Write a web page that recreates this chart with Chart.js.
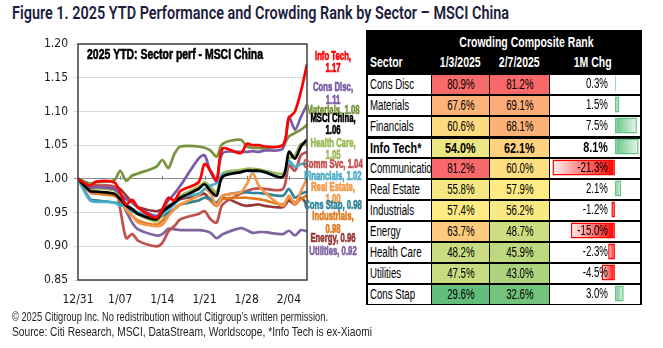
<!DOCTYPE html>
<html>
<head>
<meta charset="utf-8">
<script src="https://cdn.jsdelivr.net/npm/chart.js@4.4.1/dist/chart.umd.min.js"></script>
<style>
body { margin:0; width:663px; height:348px; overflow:hidden; background:#fff; position:relative; font-family:"Liberation Sans",Arial,sans-serif; }
.fit { position:absolute; white-space:nowrap; transform-origin:0 0; }
#title { left:12px; top:2px; font:600 18px Roboto,"Liberation Sans",sans-serif; color:#1c1c3c; }
.foot { left:12px; font:13px "Liberation Sans Narrow","Arial Narrow",sans-serif; color:#222; }
#lineBox { position:absolute; left:0; top:30px; width:366px; height:280px; }
#tbl { position:absolute; left:366px; top:30px; width:276px; height:275px; background:#000; }
#barBox { position:absolute; left:551px; top:73px; width:90px; height:231px; }
.c { position:absolute; box-sizing:border-box; font-size:14px; line-height:19px; white-space:nowrap; overflow:hidden; color:#000; }
.h { position:absolute; box-sizing:border-box; color:#fff; font-weight:bold; font-size:14px; white-space:nowrap; }
.c span, .h span { display:inline-block; }
</style>
</head>
<body>
<div id="title" class="fit">Figure 1. 2025 YTD Performance and Crowding Rank by Sector – MSCI China</div>
<div id="lineBox"><canvas id="lineChart"></canvas></div>
<div id="tbl"></div>
<div id="barBox"><canvas id="barChart"></canvas></div>
<div id="foot1" class="fit foot" style="top:309px">© 2025 Citigroup Inc. No redistribution without Citigroup’s written permission.</div>
<div id="foot2" class="fit foot" style="top:324px">Source: Citi Research, MSCI, DataStream, Worldscope, *Info Tech is ex-Xiaomi</div>
<script>
// ---- line chart data (days after 12/31/2024) ----
const days = [0,2,3,6,7,8,9,10,13,14,15,16,17,20,21,22,23,24,27,28,29,30,31,34,35,36,37,38];
const xTickLabels = ['12/31','1/07','1/14','1/21','1/28','2/04'];
const yTickLabels = ['0.85','0.90','0.95','1.00','1.05','1.10','1.15','1.20'];

const infoTech   = [1.000,0.990,0.996,0.995,0.980,0.962,0.969,0.957,0.942,0.955,0.972,0.968,0.982,0.995,1.022,1.012,0.998,1.045,1.038,1.052,1.050,1.050,1.048,1.050,1.090,1.100,1.130,1.170];
const consDisc   = [1.000,0.987,0.988,0.985,0.978,0.970,0.965,0.957,0.945,0.955,0.968,0.978,0.990,1.030,1.035,1.010,0.997,1.038,1.040,1.040,1.041,1.040,1.042,1.045,1.092,1.073,1.092,1.110];
const materials  = [1.000,0.993,0.995,0.998,1.012,0.997,1.005,1.008,1.018,1.028,1.016,1.037,1.048,1.048,1.046,1.042,1.033,1.052,1.058,1.048,1.046,1.046,1.045,1.050,1.063,1.068,1.073,1.080];
const msciChina  = [1.000,0.982,0.981,0.978,0.970,0.960,0.955,0.948,0.940,0.951,0.958,0.965,0.972,0.985,0.992,0.982,0.975,1.003,1.010,1.012,1.012,1.012,1.010,1.003,1.040,1.030,1.048,1.058];
const healthCare = [1.000,0.985,0.986,0.983,0.975,0.962,0.955,0.947,0.937,0.948,0.958,0.966,0.975,0.988,0.995,0.988,0.980,1.008,1.013,1.015,1.015,1.014,1.012,1.008,1.030,1.035,1.052,1.050];
const commSvc    = [1.000,0.992,0.990,0.988,0.955,0.912,0.918,0.908,0.900,0.905,0.922,0.930,0.940,0.948,0.952,0.940,0.935,0.962,0.978,0.982,0.985,0.986,0.985,0.985,1.020,1.012,1.035,1.040];
const financials = [1.000,0.968,0.966,0.965,0.960,0.962,0.955,0.950,0.943,0.950,0.955,0.962,0.972,0.978,0.985,0.990,0.994,1.006,1.010,1.012,1.011,1.011,1.010,1.003,1.026,1.018,1.022,1.022];
const realEstate = [1.000,0.985,0.980,0.978,0.972,0.955,0.945,0.935,0.930,0.932,0.945,0.955,0.962,0.975,0.985,0.978,0.960,0.975,0.980,0.992,1.008,0.990,0.980,0.960,0.975,0.962,0.982,1.000];
const consStap   = [1.000,0.970,0.968,0.965,0.962,0.958,0.952,0.948,0.940,0.945,0.950,0.955,0.962,0.968,0.972,0.970,0.965,0.975,0.980,0.980,0.979,0.979,0.978,0.975,0.985,0.972,0.978,0.981];
const industrials= [1.000,0.980,0.978,0.975,0.968,0.955,0.945,0.938,0.932,0.938,0.948,0.955,0.962,0.968,0.972,0.968,0.960,0.970,0.972,0.972,0.971,0.970,0.968,0.962,0.972,0.965,0.970,0.976];
const energy     = [1.000,0.992,0.990,0.988,0.985,0.975,0.965,0.958,0.952,0.955,0.960,0.965,0.970,0.975,0.978,0.968,0.960,0.972,0.962,0.960,0.961,0.962,0.960,0.958,0.968,0.962,0.972,0.962];
const utilities  = [1.000,0.982,0.980,0.976,0.970,0.952,0.935,0.925,0.916,0.918,0.926,0.925,0.924,0.924,0.923,0.920,0.912,0.918,0.927,0.924,0.920,0.921,0.921,0.918,0.923,0.916,0.924,0.922];

const seriesNames = ['Info Tech','Cons Disc','Materials','MSCI China','Health Care','Comm Svc','Financials','Real Estate','Cons Stap','Industrials','Energy','Utilities'];
const endLabels   = ['1.17','1.11','1.08','1.06','1.05','1.04','1.02','1.00','0.98','0.98','0.96','0.92'];

// ---- table data ----
const sectors = ['Cons Disc','Materials','Financials','Info Tech*','Communication Services','Real Estate','Industrials','Energy','Health Care','Utilities','Cons Stap'];
const rankJan = [80.9,67.6,60.6,54.0,81.2,55.8,57.4,63.7,48.2,47.5,29.6];
const rankFeb = [81.2,69.1,68.1,62.1,60.0,57.9,56.2,48.7,45.9,43.0,32.6];
const chg1M   = [0.3,1.5,7.5,8.1,-21.3,2.1,-1.2,-15.0,-2.3,-4.5,3.0];
const headers = ['Sector','1/3/2025','2/7/2025','1M Chg'];

// styles
const lineColors = {
    'Info Tech':'#FF0000','Cons Disc':'#7A5BA6','Materials':'#77933C','MSCI China':'#000000',
    'Health Care':'#9BBB59','Comm Svc':'#C0504D','Financials':'#4BACC6','Real Estate':'#F79646',
    'Cons Stap':'#31859C','Industrials':'#E07B1F','Energy':'#953735','Utilities':'#8064A2'
};
const seriesData = {
    'Info Tech':infoTech,'Cons Disc':consDisc,'Materials':materials,'MSCI China':msciChina,
    'Health Care':healthCare,'Comm Svc':commSvc,'Financials':financials,'Real Estate':realEstate,
    'Cons Stap':consStap,'Industrials':industrials,'Energy':energy,'Utilities':utilities
};
// first drawn on top
const drawOrder = ['Info Tech','MSCI China','Cons Disc','Materials','Financials','Health Care','Real Estate','Cons Stap','Industrials','Comm Svc','Energy','Utilities'];
// where each end label sits (value units) and whether it wraps
const labelAt = [1.182,1.135,1.102,1.090,1.053,1.021,1.003,0.988,0.960,0.944,0.911,0.893];
const labelWrap = [1,1,0,1,1,0,0,1,0,1,0,0];

const NARROW = '"Liberation Sans Narrow","Arial Narrow","DejaVu Sans Condensed",sans-serif';
const SANS = '"Liberation Sans",Arial,sans-serif';
Chart.defaults.font.family = NARROW;
Chart.defaults.animation = false;

function fitText(id, w) {
    const el = document.getElementById(id);
    const s = w / el.getBoundingClientRect().width;
    el.style.transform = 'scaleX(' + s + ')';
}
fitText('title', 497);
fitText('foot1', 316);
fitText('foot2', 360);

// squeezed text, optionally thickened with a thin stroke
function squeezeText(ctx, text, x, y, sx, heavy) {
    ctx.save(); ctx.translate(x, y); ctx.scale(sx, 1);
    if (heavy) { ctx.strokeStyle = ctx.fillStyle; ctx.lineWidth = heavy; ctx.strokeText(text, 0, 0); }
    ctx.fillText(text, 0, 0);
    ctx.restore();
}

const framePlugin = {
    id: 'frame',
    beforeDatasetsDraw(chart) {
        const { ctx, scales: { x, y } } = chart;
        const y1 = y.getPixelForValue(1);
        ctx.save();
        ctx.strokeStyle = '#808080';
        ctx.lineWidth = 1;
        x.ticks.forEach(t => {
            const px = Math.round(x.getPixelForValue(t.value)) + 0.5;
            ctx.beginPath(); ctx.moveTo(px, y1 - 3); ctx.lineTo(px, y1 + 1); ctx.stroke();
        });
        ctx.restore();
    },
    afterDatasetsDraw(chart) {
        const { ctx, chartArea: a, scales: { y } } = chart;
        ctx.save();
        ctx.strokeStyle = '#404040';
        ctx.lineWidth = 1.5;
        ctx.strokeRect(a.left, a.top, a.right - a.left, a.bottom - a.top);

        // inner title
        ctx.fillStyle = '#000';
        ctx.font = 'bold 14.5px ' + SANS;
        ctx.textBaseline = 'middle';
        const t = '2025 YTD: Sector perf - MSCI China';
        squeezeText(ctx, t, a.left + 9, a.top + 11, 176 / ctx.measureText(t).width, 0.6);

        // end labels
        ctx.font = 'bold 13px ' + SANS;
        ctx.textAlign = 'center';
        const ls = 53 / ctx.measureText('Materials, 1.08').width;
        const cx = a.right + 26;
        seriesNames.forEach((n, i) => {
            ctx.fillStyle = lineColors[n];
            const py = y.getPixelForValue(labelAt[i]);
            const lines = labelWrap[i] ? [n + ',', endLabels[i]] : [n + ', ' + endLabels[i]];
            lines.forEach((s, k) => squeezeText(ctx, s, cx, py + k * 12.5, ls, 0.7));
        });
        ctx.restore();
    }
};

new Chart(document.getElementById('lineChart'), {
    type: 'line',
    data: {
        datasets: drawOrder.map(n => ({
            label: n,
            data: days.map((d, i) => ({ x: d, y: seriesData[n][i] })),
            borderColor: lineColors[n],
            borderWidth: 2.7,
            pointRadius: 0,
            tension: 0.3,
            fill: false
        }))
    },
    options: {
        responsive: true,
        maintainAspectRatio: false,
        layout: { padding: { top: 14, right: 59, bottom: 0, left: 0 } },
        plugins: { legend: { display: false }, tooltip: { enabled: false } },
        scales: {
            x: {
                type: 'linear', min: 0, max: 38,
                grid: { display: false },
                border: { display: false },
                ticks: {
                    stepSize: 7, includeBounds: false, autoSkip: false, maxRotation: 0,
                    padding: 5, color: '#1a1a1a', font: { size: 12 },
                    callback: v => xTickLabels[Math.round(v / 7)]
                },
                afterFit: s => { s.height = 30; }
            },
            y: {
                min: 0.85, max: 1.20,
                grid: {
                    color: c => Math.abs(c.tick.value - 1) < 1e-6 ? '#8c8c8c' : '#d9d9d9',
                    lineWidth: 1, tickLength: 4
                },
                border: { display: false },
                ticks: {
                    stepSize: 0.05, padding: 6, color: '#1a1a1a', font: { size: 12 },
                    callback: v => yTickLabels[Math.round((v - 0.85) / 0.05)]
                },
                afterFit: s => { s.width = 78; }
            }
        }
    },
    plugins: [framePlugin]
});

// ---- table ----
const allRanks = rankJan.concat(rankFeb).slice().sort((a, b) => a - b);
const rMin = allRanks[0], rMax = allRanks[allRanks.length - 1];
const rMid = (allRanks[10] + allRanks[11]) / 2;
function mix(c1, c2, t) { return 'rgb(' + c1.map((v, i) => Math.round(v + (c2[i] - v) * t)).join(',') + ')'; }
function rankColor(v) {
    const g = [99,190,123], yl = [255,235,132], r = [248,105,107];
    return v <= rMid ? mix(g, yl, (v - rMin) / (rMid - rMin)) : mix(yl, r, (v - rMid) / (rMax - rMid));
}
const tbl = document.getElementById('tbl');
const colL = [2, 66, 124, 184];   // relative to table left
const colR = [65, 123, 183, 274];
function addCell(cls, css, text, sx, align) {
    const d = document.createElement('div');
    d.className = cls;
    Object.assign(d.style, css, { textAlign: align });
    const sp = document.createElement('span');
    sp.textContent = text;
    sp.style.transform = 'scaleX(' + sx + ')';
    sp.style.transformOrigin = align === 'center' ? 'center' : align;
    d.appendChild(sp);
    tbl.appendChild(d);
    return d;
}
const HS = 0.75;
addCell('h', { left: colL[1] + 'px', width: (colR[3] - colL[1] - 20) + 'px', top: '4px' }, 'Crowding Composite Rank', HS, 'center');
addCell('h', { left: '4px', top: '24px' }, headers[0], HS, 'left');
addCell('h', { left: colL[1] + 'px', width: (colR[1] - colL[1]) + 'px', top: '24px' }, headers[1], HS, 'center');
addCell('h', { left: colL[2] + 'px', width: (colR[2] - colL[2]) + 'px', top: '24px' }, headers[2], HS, 'center');
addCell('h', { left: colL[3] + 'px', width: '64px', top: '24px', paddingRight: '2px' }, headers[3], HS, 'right');

sectors.forEach((s, r) => {
    const bold = s.startsWith('Info Tech');
    const top = 43 + r * 21 + (bold ? 3 : 2);
    const h = bold ? 18 : 19;
    const sx = bold ? 0.72 : 0.69;
    const base = { top: top + 'px', height: h + 'px', lineHeight: h + 'px', fontWeight: bold ? 'bold' : 'normal', fontSize: bold ? '15px' : '14px' };
    addCell('c', Object.assign({}, base, { left: colL[0] + 'px', width: (colR[0] - colL[0]) + 'px', background: '#fff', paddingLeft: '2px' }), s, sx, 'left');
    addCell('c', Object.assign({}, base, { left: colL[1] + 'px', width: (colR[1] - colL[1]) + 'px', background: rankColor(rankJan[r]) }), rankJan[r].toFixed(1) + '%', sx, 'center');
    addCell('c', Object.assign({}, base, { left: colL[2] + 'px', width: (colR[2] - colL[2]) + 'px', background: rankColor(rankFeb[r]) }), rankFeb[r].toFixed(1) + '%', sx, 'center');
    addCell('c', Object.assign({}, base, { left: colL[3] + 'px', width: (colR[3] - colL[3]) + 'px', background: '#fff' }), '', 1, 'left');
});

// ---- 1M change data bars ----
const valuePlugin = {
    id: 'vals',
    afterDatasetsDraw(chart) {
        const { ctx, scales: { x, y } } = chart;
        ctx.save();
        ctx.fillStyle = '#000';
        ctx.textAlign = 'right';
        ctx.textBaseline = 'middle';
        chg1M.forEach((v, i) => {
            const bold = sectors[i].startsWith('Info Tech');
            ctx.font = (bold ? 'bold 15px ' : '14px ') + SANS;
            squeezeText(ctx, v.toFixed(1) + '%', x.getPixelForValue(0) - 7, y.getPixelForValue(i) + 1, bold ? 0.72 : 0.69);
        });
        ctx.restore();
    }
};
new Chart(document.getElementById('barChart'), {
    type: 'bar',
    data: {
        labels: sectors,
        datasets: [{
            data: chg1M,
            backgroundColor: c => {
                const v = c.raw;
                const solid = v < 0 ? '#FF0000' : '#63C384';
                if (c.type !== 'data' || typeof v !== 'number') return solid;
                const xs = c.chart.scales.x;
                const x0 = xs ? xs.getPixelForValue(0) : NaN, x1 = xs ? xs.getPixelForValue(v) : NaN;
                if (!isFinite(x0) || !isFinite(x1) || x0 === x1) return solid;
                const g = c.chart.ctx.createLinearGradient(x0, 0, x1, 0);
                if (v < 0) { g.addColorStop(0, '#FF0000'); g.addColorStop(1, '#FFF0F0'); }
                else { g.addColorStop(0, '#63C384'); g.addColorStop(1, '#EAF6EE'); }
                return g;
            },
            borderColor: chg1M.map(v => v < 0 ? '#FF0000' : '#63C384'),
            borderWidth: 1.5,
            borderSkipped: false,
            barPercentage: 0.76,
            categoryPercentage: 1
        }]
    },
    options: {
        indexAxis: 'y',
        responsive: true,
        maintainAspectRatio: false,
        layout: { padding: 0 },
        plugins: { legend: { display: false }, tooltip: { enabled: false } },
        scales: {
            x: {
                min: -21.8, max: 8.9,
                ticks: { display: false },
                grid: { color: c => c.tick.value === 0 ? '#777' : 'transparent', drawTicks: false },
                border: { display: false, dash: [2, 2] }
            },
            y: { display: false }
        }
    },
    plugins: [valuePlugin]
});
</script>
</body>
</html>
